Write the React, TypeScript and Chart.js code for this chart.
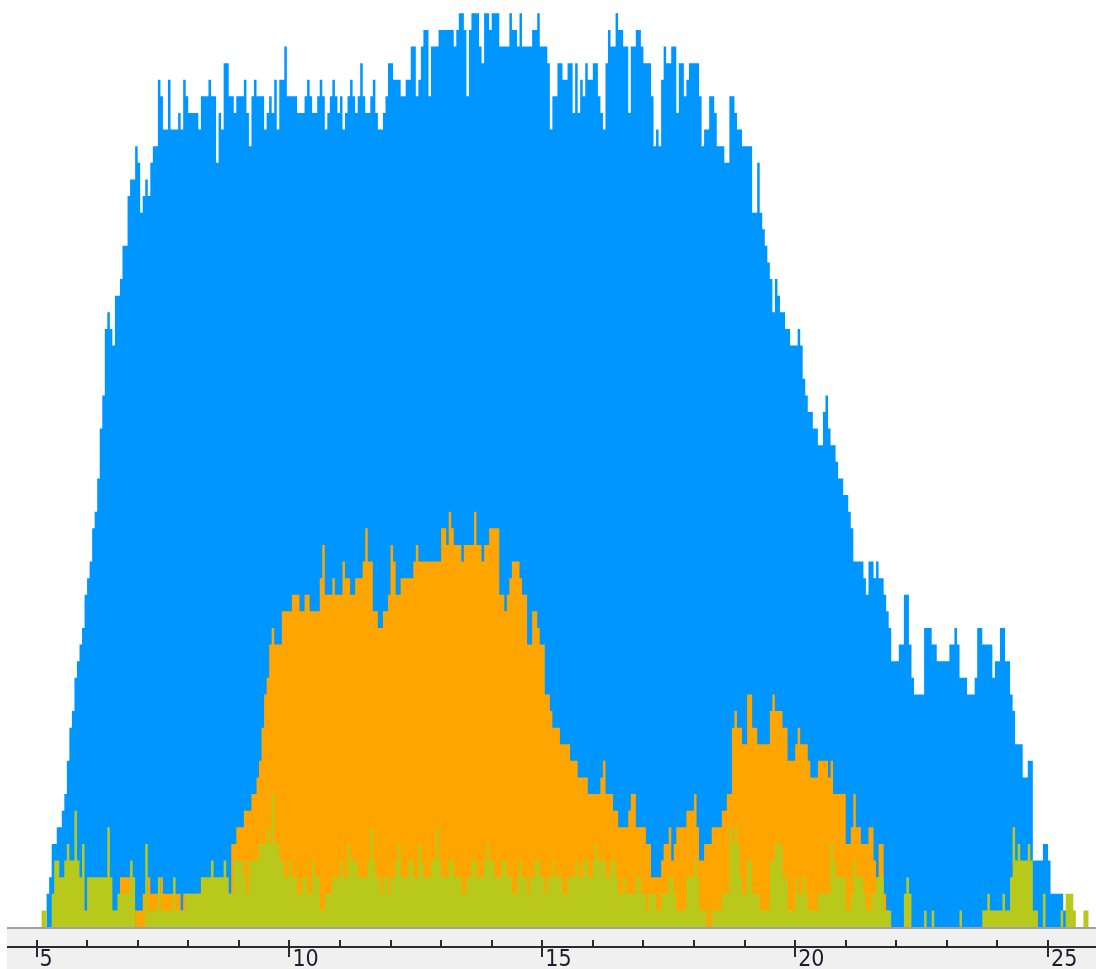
import React, { useEffect, useRef } from 'react';
import { Chart, registerables } from 'chart.js';

Chart.register(...registerables);

// Histogram bins: start value and width (x units)
const BIN_START = 4.8;
const BIN_WIDTH = 0.05;
const X_MIN = 4.278;
const X_MAX = 25.949;
const Y_MAX = 55.8;
const MAJOR_TICKS = [5, 10, 15, 20, 25];

const BLUE = '#0096ff';
const ORANGE = '#ffa500';
const YELLOW = '#b9c91b';

// counts per bin (bin i starts at BIN_START + i * BIN_WIDTH)
const blueCounts = [
  0, 0, 0, 0, 0, 0, 0, 0, 2, 3,
  5, 5, 6, 6, 7, 8, 10, 12, 13, 15,
  16, 17, 18, 20, 21, 22, 24, 25, 27, 30,
  32, 36, 37, 36, 35, 38, 38, 39, 41, 41,
  44, 45, 45, 47, 46, 43, 44, 45, 44, 46,
  47, 47, 51, 50, 48, 48, 51, 48, 48, 48,
  49, 48, 51, 50, 49, 49, 49, 49, 48, 50,
  50, 50, 51, 50, 50, 46, 49, 48, 52, 52,
  50, 50, 49, 50, 50, 50, 51, 49, 47, 50,
  51, 50, 50, 50, 48, 49, 50, 49, 51, 48,
  51, 51, 53, 50, 50, 50, 50, 49, 49, 49,
  50, 51, 50, 49, 49, 50, 51, 50, 48, 49,
  50, 51, 50, 49, 50, 48, 49, 50, 51, 50,
  49, 50, 52, 50, 49, 49, 50, 51, 49, 48,
  48, 49, 50, 52, 52, 51, 51, 51, 50, 50,
  51, 51, 53, 53, 50, 51, 53, 54, 54, 50,
  53, 53, 53, 54, 54, 54, 54, 54, 54, 53,
  54, 55, 55, 54, 50, 54, 55, 55, 55, 53,
  52, 55, 55, 54, 55, 55, 55, 53, 53, 53,
  53, 55, 54, 54, 53, 55, 53, 53, 53, 53,
  54, 54, 55, 53, 53, 53, 52, 48, 50, 50,
  52, 52, 51, 51, 52, 52, 49, 52, 49, 51,
  50, 52, 51, 51, 52, 52, 50, 49, 48, 52,
  54, 53, 53, 55, 54, 54, 53, 53, 49, 53,
  53, 54, 54, 53, 52, 52, 52, 50, 47, 48,
  47, 51, 53, 52, 52, 53, 53, 49, 52, 52,
  50, 51, 52, 52, 52, 52, 50, 47, 48, 48,
  50, 50, 49, 47, 47, 47, 46, 46, 50, 50,
  49, 48, 48, 47, 47, 47, 47, 43, 43, 46,
  43, 42, 41, 40, 39, 37, 39, 38, 37, 37,
  36, 36, 35, 35, 35, 36, 35, 33, 32, 31,
  31, 30, 30, 29, 29, 31, 32, 30, 29, 29,
  28, 27, 27, 26, 26, 25, 24, 22, 22, 22,
  22, 21, 20, 22, 22, 21, 22, 21, 21, 20,
  19, 18, 16, 16, 16, 17, 17, 20, 20, 17,
  15, 14, 14, 14, 14, 18, 18, 18, 17, 17,
  16, 16, 16, 16, 16, 17, 17, 18, 17, 15,
  15, 15, 14, 14, 14, 15, 18, 18, 17, 17,
  17, 17, 15, 16, 16, 18, 18, 16, 16, 14,
  13, 11, 11, 11, 9, 9, 10, 10, 4, 4,
  4, 4, 5, 5, 4, 2, 2, 2, 2, 2,
  1, 1, 0, 0, 0, 0, 0, 0, 0, 0, 0, 0,
];

const orangeCounts = [
  0, 0, 0, 0, 0, 0, 0, 0, 0, 0,
  0, 0, 0, 0, 0, 0, 0, 0, 0, 0,
  0, 0, 0, 0, 0, 0, 0, 0, 0, 0,
  0, 0, 0, 0, 0, 0, 0, 3, 3, 3,
  3, 3, 0, 1, 1, 1, 2, 2, 3, 2,
  2, 2, 2, 3, 2, 2, 2, 2, 2, 2,
  2, 1, 2, 2, 2, 1, 1, 2, 2, 1,
  2, 2, 1, 1, 2, 2, 2, 1, 2, 2,
  2, 5, 5, 6, 6, 6, 7, 7, 7, 8,
  8, 9, 10, 12, 14, 15, 17, 18, 17, 17,
  17, 19, 19, 19, 19, 20, 20, 20, 19, 19,
  20, 20, 19, 19, 19, 19, 21, 23, 20, 20,
  20, 21, 20, 20, 20, 22, 21, 21, 20, 20,
  21, 21, 21, 22, 24, 22, 22, 19, 19, 18,
  18, 19, 19, 20, 23, 22, 20, 20, 21, 21,
  21, 21, 21, 22, 23, 22, 22, 22, 22, 22,
  22, 22, 22, 22, 24, 24, 23, 25, 24, 23,
  23, 23, 22, 23, 23, 23, 23, 25, 23, 23,
  22, 23, 23, 24, 24, 24, 24, 20, 20, 19,
  20, 21, 22, 22, 22, 21, 20, 20, 17, 17,
  19, 19, 18, 17, 17, 14, 14, 13, 12, 12,
  12, 11, 11, 11, 11, 10, 10, 10, 9, 9,
  9, 9, 8, 8, 8, 8, 8, 9, 10, 8,
  8, 8, 7, 7, 6, 6, 6, 6, 7, 8,
  8, 6, 6, 6, 6, 5, 5, 3, 3, 3,
  3, 4, 5, 5, 6, 4, 5, 6, 6, 6,
  6, 7, 7, 7, 8, 6, 4, 4, 5, 5,
  5, 6, 6, 6, 6, 7, 7, 8, 8, 12,
  13, 12, 12, 11, 11, 14, 14, 12, 12, 11,
  11, 11, 11, 11, 13, 14, 13, 13, 13, 12,
  12, 10, 10, 10, 11, 12, 11, 11, 11, 10,
  9, 9, 9, 10, 10, 10, 10, 9, 10, 8,
  8, 8, 8, 8, 5, 5, 6, 8, 6, 6,
  5, 5, 5, 6, 6, 4, 3, 5, 5, 2,
  1, 0, 0, 0, 0, 0, 0, 0, 0, 0,
  0, 0, 0, 0, 0, 0, 0, 0, 0, 0,
  0, 0, 0, 0, 0, 0, 0, 0, 0, 0,
  0, 0, 0, 0, 0, 0, 0, 0, 0, 0,
  0, 0, 0, 0, 0, 0, 0, 0, 0, 0,
  0, 0, 0, 0, 0, 0, 0, 0, 0, 0,
  0, 0, 0, 0, 0, 0, 0, 0, 0, 0,
  0, 0, 0, 0, 0, 0, 0, 0, 0, 0, 0, 0,
];

const yellowCounts = [
  0, 0, 0, 0, 0, 0, 1, 1, 0, 0,
  2, 4, 4, 3, 3, 4, 5, 4, 4, 7,
  4, 3, 5, 1, 3, 3, 3, 3, 3, 3,
  3, 3, 6, 3, 1, 1, 2, 2, 2, 2,
  2, 4, 3, 0, 0, 0, 0, 5, 1, 1,
  1, 1, 3, 1, 1, 1, 1, 1, 3, 1,
  1, 1, 1, 2, 2, 2, 2, 2, 2, 3,
  3, 3, 3, 4, 3, 3, 3, 3, 4, 3,
  2, 2, 4, 4, 4, 4, 3, 2, 4, 4,
  4, 4, 5, 5, 5, 6, 5, 8, 5, 5,
  4, 4, 3, 3, 4, 3, 3, 2, 2, 3,
  3, 2, 2, 4, 3, 3, 1, 1, 2, 2,
  2, 3, 3, 3, 4, 3, 3, 5, 4, 4,
  4, 3, 3, 3, 3, 4, 6, 4, 3, 3,
  2, 3, 3, 2, 3, 3, 4, 5, 3, 3,
  3, 4, 4, 3, 3, 5, 4, 3, 3, 3,
  4, 4, 6, 4, 3, 3, 3, 4, 4, 3,
  3, 3, 2, 2, 3, 3, 4, 4, 3, 3,
  3, 4, 5, 4, 4, 3, 3, 3, 4, 4,
  3, 3, 2, 2, 3, 4, 3, 3, 2, 3,
  3, 4, 4, 3, 3, 2, 3, 3, 4, 3,
  3, 3, 2, 2, 3, 3, 3, 4, 3, 3,
  4, 4, 3, 3, 4, 5, 4, 4, 4, 3,
  3, 4, 4, 3, 2, 2, 3, 2, 2, 2,
  2, 3, 3, 2, 2, 1, 2, 2, 2, 1,
  1, 2, 2, 2, 3, 3, 2, 1, 1, 1,
  1, 3, 3, 3, 4, 3, 1, 1, 1, 0,
  0, 1, 1, 1, 1, 2, 2, 2, 6, 5,
  6, 5, 3, 2, 2, 4, 4, 2, 2, 2,
  1, 1, 1, 1, 4, 4, 5, 5, 5, 3,
  3, 1, 1, 1, 3, 2, 2, 3, 2, 1,
  1, 1, 1, 2, 2, 2, 2, 2, 5, 4,
  3, 3, 3, 3, 1, 1, 2, 4, 3, 3,
  3, 2, 1, 1, 2, 2, 3, 3, 3, 1,
  1, 1, 0, 0, 0, 0, 0, 2, 3, 2,
  0, 0, 0, 0, 0, 1, 0, 0, 1, 0,
  0, 0, 0, 0, 0, 0, 0, 0, 0, 1,
  0, 0, 0, 0, 0, 0, 0, 0, 1, 1,
  2, 1, 1, 1, 1, 1, 2, 1, 1, 3,
  6, 4, 5, 4, 4, 4, 5, 4, 1, 1,
  0, 0, 2, 0, 0, 0, 0, 0, 0, 1,
  0, 2, 2, 2, 1, 0, 0, 0, 1, 1, 0, 0,
];

function toSteps(counts: number[]) {
  const pts = counts.map((c, i) => ({ x: BIN_START + i * BIN_WIDTH, y: c }));
  pts.push({ x: BIN_START + counts.length * BIN_WIDTH, y: 0 });
  return pts;
}

const axisPlugin = {
  id: 'axisBand',
  beforeDraw(chart: any) {
    const { ctx, chartArea, width, height } = chart;
    ctx.save();
    ctx.fillStyle = '#f0f0f0';
    ctx.fillRect(7, chartArea.bottom, width - 7, height - chartArea.bottom);
    ctx.fillStyle = '#a0a0a0';
    ctx.fillRect(7, chartArea.bottom, width - 7, 2);
    ctx.restore();
  },
  afterDraw(chart: any) {
    const { ctx, chartArea, width } = chart;
    const xs = chart.scales.x;
    const lineY = chartArea.bottom + 19;
    ctx.save();
    ctx.fillStyle = '#2a2a2a';
    ctx.fillRect(7, lineY, width - 7, 2);
    xs.ticks.forEach((t: any) => {
      const px = Math.round(xs.getPixelForValue(t.value));
      const major = MAJOR_TICKS.includes(t.value);
      ctx.fillRect(px - 1, lineY - 6, 2, major ? 17 : 6);
    });
    ctx.restore();
  },
};

export default function App() {
  const canvasRef = useRef<HTMLCanvasElement | null>(null);

  useEffect(() => {
    if (!canvasRef.current) return;
    const chart = new Chart(canvasRef.current, {
      type: 'line',
      data: {
        datasets: [
          {
            label: 'C',
            data: toSteps(yellowCounts),
            backgroundColor: YELLOW,
            borderColor: 'rgba(0,0,0,0)',
            borderWidth: 0,
            fill: 'origin',
            stepped: 'before',
            pointRadius: 0,
            order: 1,
          },
          {
            label: 'B',
            data: toSteps(orangeCounts),
            backgroundColor: ORANGE,
            borderColor: 'rgba(0,0,0,0)',
            borderWidth: 0,
            fill: 'origin',
            stepped: 'before',
            pointRadius: 0,
            order: 2,
          },
          {
            label: 'A',
            data: toSteps(blueCounts),
            backgroundColor: BLUE,
            borderColor: 'rgba(0,0,0,0)',
            borderWidth: 0,
            fill: 'origin',
            stepped: 'before',
            pointRadius: 0,
            order: 3,
          },
        ],
      },
      options: {
        responsive: false,
        animation: false,
        devicePixelRatio: 1,
        events: [],
        layout: { padding: 0 },
        plugins: {
          legend: { display: false },
          tooltip: { enabled: false },
          title: { display: false },
        },
        scales: {
          x: {
            type: 'linear',
            min: X_MIN,
            max: X_MAX,
            afterFit: (s: any) => {
              s.height = 42;
            },
            border: { display: false },
            grid: { display: false, drawTicks: false },
            ticks: {
              stepSize: 1,
              autoSkip: false,
              includeBounds: false,
              maxRotation: 0,
              minRotation: 0,
              align: 'start',
              labelOffset: 3,
              padding: 19,
              color: '#1c1c2c',
              font: { family: "'Liberation Sans Narrow', 'DejaVu Sans Condensed', Roboto", size: 23 },
              callback: (v: any) => (MAJOR_TICKS.includes(Number(v)) ? String(v) : ''),
            },
          },
          y: { display: false, min: 0, max: Y_MAX },
        },
      },
      plugins: [axisPlugin],
    } as any);
    return () => chart.destroy();
  }, []);

  return (
    <div style={{ position: 'fixed', left: 0, top: 0, width: 1096, height: 969, background: '#ffffff' }}>
      <canvas ref={canvasRef} width={1096} height={969} style={{ display: 'block' }} />
    </div>
  );
}
